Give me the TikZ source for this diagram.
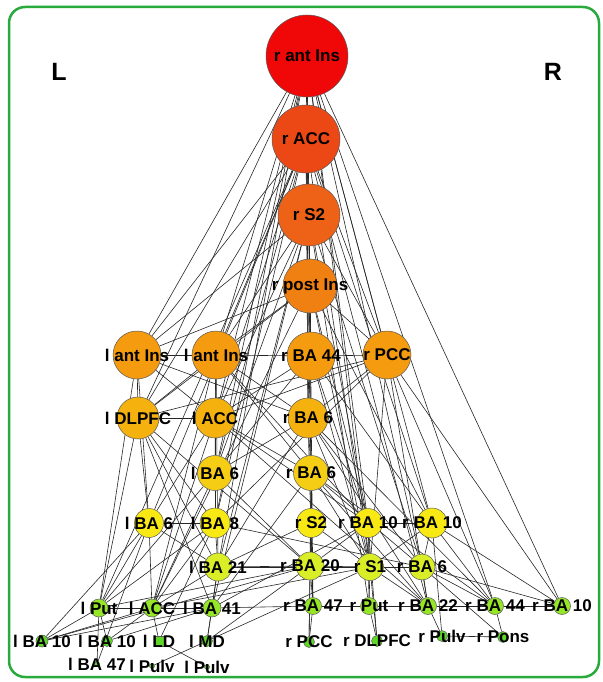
\documentclass[tikz,border=0pt]{standalone}
\usepackage{fontspec}
\setmainfont{Liberation Sans}
\usetikzlibrary{backgrounds}
\definecolor{cA}{RGB}{240,8,8}
\definecolor{cB}{RGB}{236,72,22}
\definecolor{cC}{RGB}{238,98,24}
\definecolor{cD}{RGB}{240,128,18}
\definecolor{cE}{RGB}{245,155,15}
\definecolor{cF}{RGB}{245,178,15}
\definecolor{cG}{RGB}{245,205,20}
\definecolor{cH}{RGB}{248,232,20}
\definecolor{cI}{RGB}{218,238,40}
\definecolor{cJ}{RGB}{150,230,40}
\definecolor{cK}{RGB}{95,215,40}
\definecolor{rahmengruen}{RGB}{40,170,60}
\newcommand{\lblfont}{\fontsize{17}{20}\selectfont\bfseries}
\tikzset{
  vtx/.style={circle, draw=black!65, line width=0.5pt, inner sep=0pt},
  kante/.style={draw=black!85, line width=0.6pt},
  rahmen/.style={draw=rahmengruen, line width=2.5pt, rounded corners=16pt},
  every label/.style={font=\lblfont, inner sep=0pt, text=black},
}
\begin{document}
\begin{tikzpicture}[x=1pt,y=-1pt]
  \useasboundingbox (0,0) rectangle (602,682);
  % Knoten
  \foreach \nm/\px/\py/\dm/\fc/\tx in {
      rantIns/307/56/82/cA/r ant Ins, rACC/306/139/68/cB/r ACC,
      rSii/309/215/62/cC/r S2, rpostIns/310/286/54/cD/r post Ins,
      lantInsA/137/355/48/cE/l ant Ins, lantInsB/216/355/48/cE/l ant Ins,
      rBAxliv/311/356/48/cE/r BA 44, rPCC/387/355/48/cE/r PCC,
      lDLPFC/138/418/42/cF/l DLPFC, lACC/215/418/40/cF/l ACC,
      rBAvi/308/418/40/cF/r BA 6,
      lBAvi/215/473/35/cG/l BA 6, rBAviB/311/473/35/cG/r BA 6,
      lBAviC/149/523/29/cH/l BA 6, lBAviii/215/523/30/cH/l BA 8,
      rSiiB/311/523/29/cH/r S2, rBAx/368/523/29/cH/r BA 10,
      rBAxB/432/523/30/cH/r BA 10,
      lBAxxi/218/567/28/cI/l BA 21, rBAxx/310/566/28/cI/r BA 20,
      rSi/370/567/27/cI/r S1, rBAviD/422/567/26/cI/r BA 6,
      lPut/99/608/18/cJ/l Put, lACCB/152/608/18/cJ/l ACC,
      lBAxli/212/608/18/cJ/l BA 41, rBAxlvii/313/606/17/cJ/r BA 47,
      rPut/369/606/17/cJ/r Put, rBAxxii/428/606/17/cJ/r BA 22,
      rBAxlivB/495/606/17/cJ/r BA 44, rBAxC/562/606/17/cJ/r BA 10,
      lBAx/42/641/12/cK/l BA 10, lBAxB/107/641/11/cK/l BA 10,
      lMD/207/641/11/cK/l MD, rPCCB/309/642/11/cK/r PCC,
      rDLPFC/377/641/11/cK/r DLPFC, rPulv/442/636/11/cK/r Pulv,
      rPons/503/637/11/cK/r Pons,
      lBAxlvii/97/664/5/cK/l BA 47, lPulv/152/666/5/cK/l Pulv,
      lPulvB/207/667/5/cK/l Pulv} {
    \node[vtx, minimum size=\dm pt, fill=\fc, label=center:\tx] (\nm) at (\px,\py) {};
  }
  \node[draw=black!65, line width=0.5pt, fill=cK, inner sep=0pt, minimum size=10pt,
        label=center:l LD] (lLD) at (159,641) {};
  % Kanten
  \begin{scope}[on background layer]
    \foreach \a/\b in {
        rantIns/rACC, rACC/rSii, rSii/rpostIns, rpostIns/rBAxliv, rBAxliv/rBAvi,
        rBAvi/rBAviB, rBAviB/rSiiB, rantIns/rSii, rACC/rpostIns,
        rantIns/lantInsA, rantIns/lantInsB, rantIns/lDLPFC, rantIns/lACC,
        rantIns/lBAvi, rantIns/lBAviii, rantIns/lBAxxi, rantIns/rBAxliv,
        rantIns/rPCC, rantIns/rBAvi, rantIns/rBAx, rantIns/rBAxB,
        rantIns/rBAxlivB, rantIns/rBAxC, rantIns/rBAviD, rantIns/rSi,
        rACC/lantInsA, rACC/lantInsB, rACC/lDLPFC, rACC/lACC, rACC/lBAviC,
        rACC/lBAviii, rACC/lBAvi, rACC/lPut, rACC/rPCC, rACC/rBAvi,
        rACC/rBAviB, rACC/rSi, rACC/rBAxB, rACC/rBAxxii,
        rSii/lantInsA, rSii/lantInsB, rSii/lACC, rSii/lBAvi, rSii/lBAxli,
        rSii/lBAxxi, rSii/rPCC, rSii/rBAviB, rSii/rBAx, rSii/rBAviD, rSii/rPut,
        rpostIns/lantInsA, rpostIns/lantInsB, rpostIns/lDLPFC, rpostIns/lACCB,
        rpostIns/rPCC, rpostIns/rBAvi, rpostIns/rBAx, rpostIns/rBAxB,
        rpostIns/rSi, rpostIns/rBAxlvii,
        lantInsA/lantInsB, lantInsA/lDLPFC, lantInsA/lACC, lantInsA/lBAviC,
        lantInsA/lPut, lantInsA/rBAvi,
        lantInsB/rBAxliv, lantInsB/lDLPFC, lantInsB/lACC, lantInsB/lBAvi,
        lantInsB/rBAvi, lantInsB/rBAviB, lantInsB/rBAx, lantInsB/lBAxxi,
        lantInsB/lACCB,
        rBAxliv/rPCC, rBAxliv/lACC, rBAxliv/rBAx, rBAxliv/rBAxB, rBAxliv/rSi,
        rBAxliv/lBAvi,
        rPCC/rBAvi, rPCC/lACC, rPCC/lDLPFC, rPCC/rBAxlivB, rPCC/rBAxC,
        rPCC/rSi, rPCC/rBAxxii, rPCC/lBAviii,
        lDLPFC/lACC, lDLPFC/lBAviC, lDLPFC/lPut, lDLPFC/lBAviii,
        lDLPFC/lBAxxi, lDLPFC/rBAxx, lDLPFC/lBAxli,
        lACC/lBAvi, lACC/lBAviC, lACC/lACCB, lACC/rBAviB, lACC/rBAx,
        lACC/rBAxxii,
        rBAvi/lBAvi, rBAvi/rSi, rBAvi/rBAviD, rBAvi/rBAxxii, rBAvi/rBAxlivB,
        rBAvi/lBAxxi, rBAvi/rBAxlvii,
        lBAvi/lBAviii, lBAvi/rBAxx, lBAvi/lACCB, lBAvi/lPut,
        rBAviB/rBAxx, rBAviB/rSi, rBAviB/rBAviD, rBAviB/rBAxlivB,
        rBAviB/rBAxxii, rBAviB/lBAxli,
        lBAviC/lBAviii, lBAviC/lBAxxi, lBAviC/lPut, lBAviC/lACCB,
        lBAviC/lBAx, lBAviC/lBAxlvii,
        lBAviii/lBAxxi, lBAviii/lACCB, lBAviii/rBAviD, lBAviii/lPut,
        lBAviii/lLD,
        rSiiB/rBAxx, rSiiB/rSi, rSiiB/lBAxxi, rSiiB/rBAxlvii, rSiiB/rPCCB,
        rBAx/rBAxB, rBAx/rBAxx, rBAx/rSi, rBAx/rPut, rBAx/lBAxli,
        rBAx/rDLPFC,
        rBAxB/rBAviD, rBAxB/rBAxlivB, rBAxB/rBAxC, rBAxB/rSi, rBAxB/rPulv,
        lBAxxi/rBAxx, lBAxxi/lBAxli, lBAxxi/lACCB, lBAxxi/lMD, lBAxxi/rSi,
        rBAxx/rBAxlvii, rBAxx/rPCCB, rBAxx/rSi, rBAxx/lPut,
        rSi/rBAviD, rSi/rPut, rSi/rBAxxii, rSi/rDLPFC, rSi/lACCB,
        rBAviD/rBAxxii, rBAviD/rBAxC, rBAviD/rPons, rBAviD/rBAxlivB,
        lPut/lACCB, lACCB/lBAxli, lBAxli/rBAxlvii, rBAxlvii/rPut,
        rPut/rBAxxii, rBAxxii/rBAxlivB, rBAxlivB/rBAxC,
        lPut/lBAx, lPut/lBAxB, lPut/lBAxlvii, lACCB/lBAx, lACCB/lBAxB,
        lACCB/lLD, lBAxli/lMD, lBAxli/lBAxB,
        rBAxlvii/rPCCB, rPut/rDLPFC, rBAxxii/rPulv, rBAxlivB/rPons,
        rPulv/rPons, lLD/lPulvB, lMD/lPulv, lMD/rBAxx, lMD/rSi,
        lBAx/lBAxli, lBAx/rBAxx} {
      \draw[kante] (\a) -- (\b);
    }
  \end{scope}
  % Seiten
  \node[font=\fontsize{25}{28}\selectfont\bfseries] (seiteL) at (59,72) {L};
  \node[font=\fontsize{25}{28}\selectfont\bfseries] (seiteR) at (553,72) {R};
  % Rahmen
  \draw[rahmen] (9,7) rectangle (599,677);
\end{tikzpicture}
\end{document}
